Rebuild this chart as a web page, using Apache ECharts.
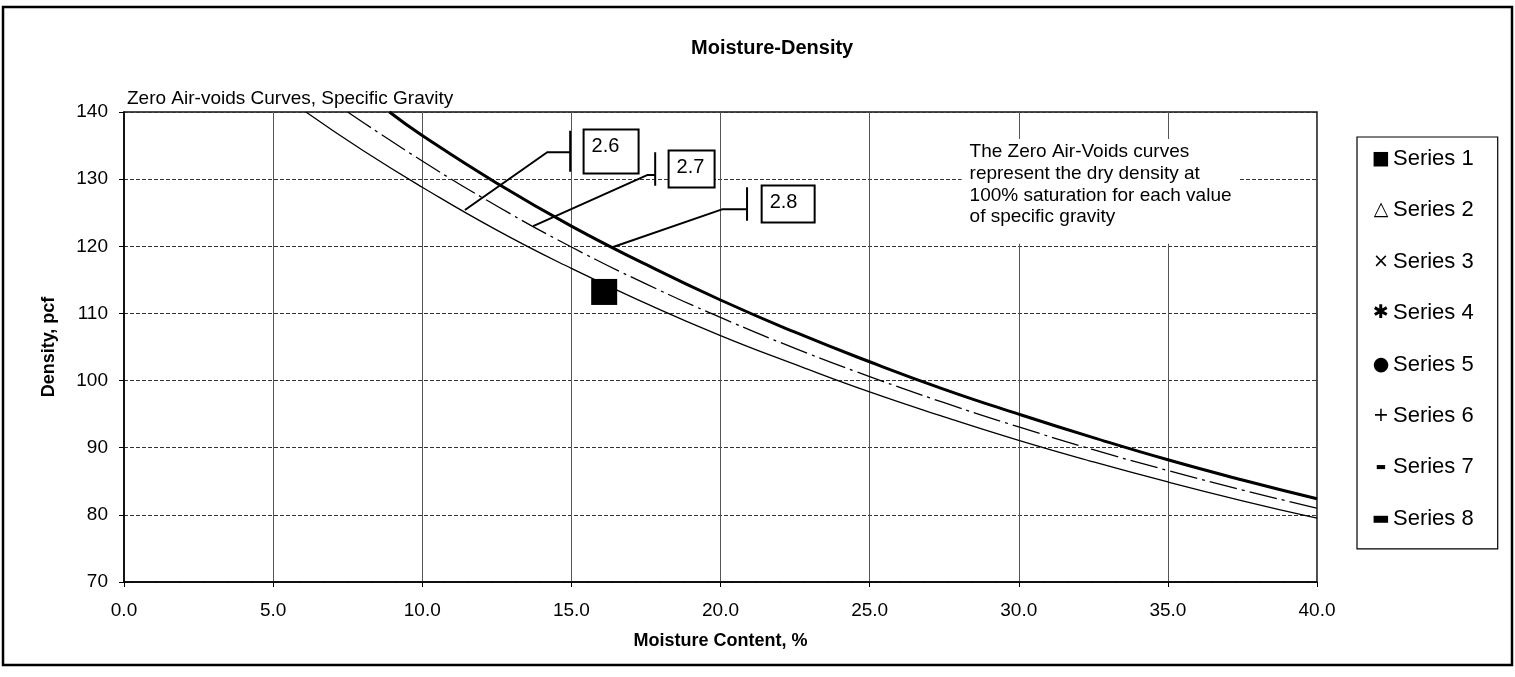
<!DOCTYPE html>
<html>
<head>
<meta charset="utf-8">
<script src="https://cdn.jsdelivr.net/npm/echarts@6/dist/echarts.min.js"></script>
<style>
html, body { margin: 0; padding: 0; background: #fff; }
#chart { width: 1515px; height: 677px; }
</style>
</head>
<body>
<div id="chart"></div>
<script>
// zero air-voids curves: [moisture %, density pcf]
const zav26 = [[6.1, 140], [8, 134.3], [10, 128.8], [12.5, 122.4], [15, 116.7], [17.5, 111.5], [20, 106.7],
    [22.5, 102.4], [25, 98.3], [27.5, 94.6], [30, 91.1], [32.5, 87.9], [35, 84.9], [37.5, 82.1], [40, 79.5]]
const zav27 = [[7.5, 140], [10, 132.7], [12.5, 126.0], [15, 119.9], [17.5, 114.4], [20, 109.4], [22.5, 104.8],
    [25, 100.6], [27.5, 96.7], [30, 93.1], [32.5, 89.7], [35, 86.6], [37.5, 83.7], [40, 81.0]]
const zav28 = [[8.9, 140], [10, 136.5], [12.5, 129.4], [15, 123.0], [17.5, 117.3], [20, 112.0], [22.5, 107.2],
    [25, 102.8], [27.5, 98.7], [30, 95.0], [32.5, 91.5], [35, 88.2], [37.5, 85.2], [40, 82.4]]

// measured point (Series 1)
const series1 = [[16.1, 113.2]]

// callout leaders and boxes, in data coordinates
const lead26 = [[11.43, 125.4], [14.19, 134.0], [14.96, 134.0], [14.96, 137.2], [14.96, 131.1]]
const lead27 = [[13.72, 123.0], [17.54, 130.6], [17.81, 130.6], [17.81, 134.0], [17.81, 129.0]]
const lead28 = [[16.40, 119.9], [20.05, 125.5], [20.89, 125.5], [20.89, 128.8], [20.89, 123.8]]
const boxLabels = ['2.6', '2.7', '2.8']
const boxCorners = [[15.46, 137.17], [18.31, 134.04], [21.43, 128.82]]
const boxSizes = [[53, 42], [44, 35], [51, 35]]

const legendNames = ['Series 1', 'Series 2', 'Series 3', 'Series 4', 'Series 5', 'Series 6', 'Series 7', 'Series 8']
const legendGlyphs = ['■', '△', '×', '✱', '●', '+', '▬', '▬']

const noteText = 'The Zero Air-Voids curves\nrepresent the dry density at\n100% saturation for each value\nof specific gravity'
const noteCorner = [28.1, 135.9]

const xTicks = { min: 0, max: 40, interval: 5 }
const yTicks = { min: 70, max: 140, interval: 10 }

const font = 'Arial, "Liberation Sans", Helvetica, sans-serif'
const clear = 'rgba(0,0,0,0)'
const chart = echarts.init(document.getElementById('chart'))

const leaderSeries = [lead26, lead27, lead28].map(d => ({
    type: 'line', data: d, symbol: 'none', silent: true, z: 4,
    lineStyle: { color: '#000', width: 2 }
}))

const boxSeries = {
    type: 'scatter', silent: true, symbol: 'circle', symbolSize: 1, z: 5,
    itemStyle: { color: clear, opacity: 1 },
    data: boxCorners.map((c, i) => ({
        value: c,
        label: {
            show: true, position: [0, 0], align: 'left', verticalAlign: 'top',
            formatter: boxLabels[i], color: '#000', fontSize: 20, fontFamily: font,
            backgroundColor: '#fff', borderColor: '#000', borderWidth: 2,
            padding: [6, 0, 0, 7], width: boxSizes[i][0] - 7, height: boxSizes[i][1] - 6
        }
    }))
}

const noteSeries = {
    type: 'scatter', silent: true, symbol: 'circle', symbolSize: 1, z: 1,
    itemStyle: { color: clear, opacity: 1 },
    data: [{
        value: noteCorner,
        label: {
            show: true, position: [0, 0], align: 'left', verticalAlign: 'top',
            formatter: noteText, color: '#000', fontSize: 19, lineHeight: 21.7, fontFamily: font,
            backgroundColor: '#fff', padding: [2, 8, 16, 8]
        }
    }]
}

const legendSeries = legendNames.slice(1).map(n => ({ name: n, type: 'scatter', data: [] }))

const glyphStyle = (size) => ({
    fontSize: size, width: 22, align: 'right', fontFamily: 'DejaVu Sans', color: '#000', padding: [0, 1, 0, 0]
})

const option = {
    animation: false,
    backgroundColor: '#fff',
    title: [
        {
            text: 'Moisture-Density', left: 686, top: 33,
            textStyle: { fontSize: 20, fontWeight: 'bold', color: '#000', fontFamily: font }
        },
        {
            text: 'Zero Air-voids Curves, Specific Gravity', left: 122, top: 84,
            textStyle: { fontSize: 19, fontWeight: 'normal', color: '#000', fontFamily: font }
        }
    ],
    graphic: [{
        type: 'rect', silent: true, z: 100,
        shape: { x: 3, y: 7, width: 1509, height: 658 },
        style: { fill: 'none', stroke: '#000', lineWidth: 2.5 }
    }],
    legend: {
        orient: 'vertical', left: 1357, top: 137,
        data: legendNames,
        itemWidth: 0, itemHeight: 0, itemGap: 29.4,
        padding: [11, 24, 19, 8],
        borderColor: '#000', borderWidth: 1.2, backgroundColor: '#fff',
        selectedMode: false,
        formatter: name => {
            const i = legendNames.indexOf(name)
            return '{' + (i === 6 ? 's' : 'g') + '|' + legendGlyphs[i] + '}{t|' + name + '}'
        },
        textStyle: {
            color: '#000', fontFamily: font,
            rich: {
                g: glyphStyle(19),
                s: glyphStyle(11),
                t: { fontSize: 22, fontFamily: font, color: '#000', lineHeight: 22 }
            }
        }
    },
    grid: {
        left: 124, right: 198, top: 112, bottom: 95,
        show: true, borderColor: '#111', borderWidth: 1.5, containLabel: false
    },
    xAxis: {
        type: 'value', ...xTicks,
        name: 'Moisture Content, %', nameLocation: 'middle', nameGap: 50,
        nameTextStyle: { fontSize: 18, fontWeight: 'bold', color: '#000', fontFamily: font },
        axisLine: { show: true, lineStyle: { color: '#000', width: 1.5 } },
        axisTick: { show: true, length: 5, lineStyle: { color: '#000' } },
        axisLabel: { margin: 19, fontSize: 19, color: '#000', fontFamily: font, formatter: v => v.toFixed(1) },
        splitLine: { show: true, lineStyle: { color: '#555', width: 1 } }
    },
    yAxis: {
        type: 'value', ...yTicks,
        name: 'Density, pcf', nameLocation: 'middle', nameGap: 66,
        nameTextStyle: { fontSize: 18, fontWeight: 'bold', color: '#000', fontFamily: font },
        axisLine: { show: true, lineStyle: { color: '#000', width: 1.5 } },
        axisTick: { show: true, length: 5, lineStyle: { color: '#000' } },
        axisLabel: { margin: 16, fontSize: 19, color: '#000', fontFamily: font },
        splitLine: { show: true, lineStyle: { color: '#333', width: 1, type: [4, 2] } }
    },
    series: [
        {
            name: 'ZAV 2.6', type: 'line', data: zav26, smooth: true, symbol: 'none', z: 3,
            lineStyle: { color: '#000', width: 1.3 }
        },
        {
            name: 'ZAV 2.7', type: 'line', data: zav27, smooth: true, symbol: 'none', z: 3,
            lineStyle: { color: '#000', width: 1.3, type: [28, 5, 3, 5] }
        },
        {
            name: 'ZAV 2.8', type: 'line', data: zav28, smooth: true, symbol: 'none', z: 3,
            lineStyle: { color: '#000', width: 3 }
        },
        ...leaderSeries,
        boxSeries,
        noteSeries,
        {
            name: 'Series 1', type: 'scatter', data: series1, symbol: 'rect', symbolSize: 26, z: 6,
            itemStyle: { color: '#000', opacity: 1 }
        },
        ...legendSeries
    ]
}

chart.setOption(option)
</script>
</body>
</html>
